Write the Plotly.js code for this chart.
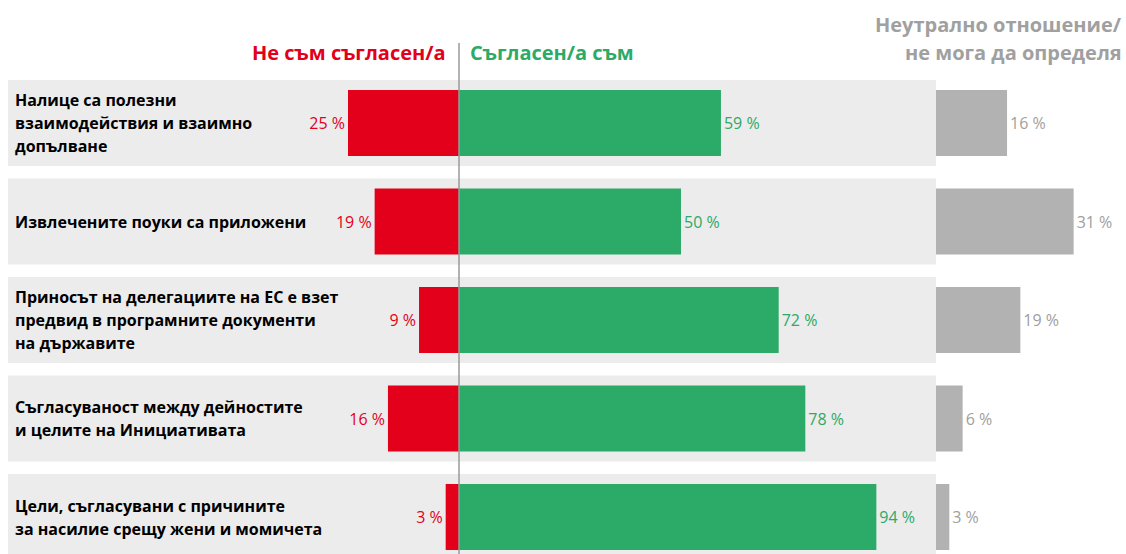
<!DOCTYPE html>
<html>
<head>
<meta charset="utf-8">
<script src="https://cdn.plot.ly/plotly-3.0.1.min.js"></script>
<style>html,body{margin:0;padding:0;background:#fff;}#chart{width:1126px;height:554px;}</style>
</head>
<body>
<div id="chart"></div>
<script>
var categories = [
  "Налице са полезни\nвзаимодействия и взаимно\nдопълване",
  "Извлечените поуки са приложени",
  "Приносът на делегациите на ЕС е взет\nпредвид в програмните документи\nна държавите",
  "Съгласуваност между дейностите\nи целите на Инициативата",
  "Цели, съгласувани с причините\nза насилие срещу жени и момичета"
];
var disagree = [25, 19, 9, 16, 3];
var agree = [59, 50, 72, 78, 94];
var neutral = [16, 31, 19, 6, 3];
var headerDisagree = "Не съм съгласен/а";
var headerAgree = "Съгласен/а съм";
var headerNeutral = ["Неутрално отношение/", "не мога да определя"];

var W = 1126, H = 554;
var RED = "#e2001a", GREEN = "#2baa68", GREYBAR = "#b2b2b2", GREYTXT = "#a0a0a0";
var FONT = "Open Sans, sans-serif";
var pxPerPct = 4.44, zeroPx = 459, neutralStartPx = 936;
var rowTop = 123, rowStep = 98.5;

var idx = categories.map(function(_, i){ return i; });
var pct = function(v){ return v + " %"; };

var traces = [
  {type:"bar", orientation:"h", y:idx, x:disagree.map(function(v){return -v;}),
   text:disagree.map(pct), textposition:"outside", cliponaxis:false,
   textfont:{family:FONT, size:16, color:RED}, marker:{color:RED}, width:0.67, hoverinfo:"skip"},
  {type:"bar", orientation:"h", y:idx, x:agree,
   text:agree.map(pct), textposition:"outside", cliponaxis:false,
   textfont:{family:FONT, size:16, color:GREEN}, marker:{color:GREEN}, width:0.67, hoverinfo:"skip"},
  {type:"bar", orientation:"h", y:idx, x:neutral, xaxis:"x2",
   text:neutral.map(pct), textposition:"outside", cliponaxis:false,
   textfont:{family:FONT, size:16, color:GREYTXT}, marker:{color:GREYBAR}, width:0.67, hoverinfo:"skip"}
];

var shapes = [], annotations = [];
idx.forEach(function(i){
  shapes.push({type:"rect", layer:"below", xref:"paper", yref:"y", x0:8/W, x1:1,
    y0:i-0.437, y1:i+0.437, fillcolor:"#ececec", line:{width:0}});
  var lines = categories[i].split("\n");
  lines.forEach(function(t, k){
    annotations.push({xref:"paper", yref:"y", x:13/W, y:i, xanchor:"left", yanchor:"middle",
      yshift:-(k-(lines.length-1)/2)*23, showarrow:false, text:t,
      font:{family:FONT, size:16, color:"#000", weight:"bold"}});
  });
});
shapes.push({type:"line", layer:"above", xref:"x", yref:"paper", x0:0, x1:0, y0:1-43/H, y1:0,
  line:{color:"#9a9a9a", width:1.5}});

var py = function(p){ return 1 - p/H; };
annotations.push({xref:"x", yref:"paper", x:0, xshift:-11, y:py(52), xanchor:"right", yanchor:"middle",
  showarrow:false, text:"<b>"+headerDisagree+"</b>", font:{family:FONT, size:20, color:RED}});
annotations.push({xref:"x", yref:"paper", x:0, xshift:9, y:py(52), xanchor:"left", yanchor:"middle",
  showarrow:false, text:"<b>"+headerAgree+"</b>", font:{family:FONT, size:20, color:GREEN}});
headerNeutral.forEach(function(t, k){
  annotations.push({xref:"paper", yref:"paper", x:1, xshift:-2, y:py(25+27*k), xanchor:"right", yanchor:"middle",
    showarrow:false, text:"<b>"+t+"</b>", font:{family:FONT, size:20, color:GREYTXT}});
});

var layout = {
  width:W, height:H, margin:{l:0, r:0, t:0, b:0},
  paper_bgcolor:"#fff", plot_bgcolor:"#fff", showlegend:false, barmode:"overlay",
  xaxis:{domain:[0,1], range:[-zeroPx/pxPerPct, (W-zeroPx)/pxPerPct], visible:false, fixedrange:true},
  xaxis2:{domain:[neutralStartPx/W, 1], range:[0, (W-neutralStartPx)/pxPerPct], anchor:"y", visible:false, fixedrange:true},
  yaxis:{range:[(H-rowTop)/rowStep, -rowTop/rowStep], visible:false, fixedrange:true},
  shapes:shapes, annotations:annotations
};

Plotly.newPlot("chart", traces, layout, {displayModeBar:false, staticPlot:true});
</script>
</body>
</html>
